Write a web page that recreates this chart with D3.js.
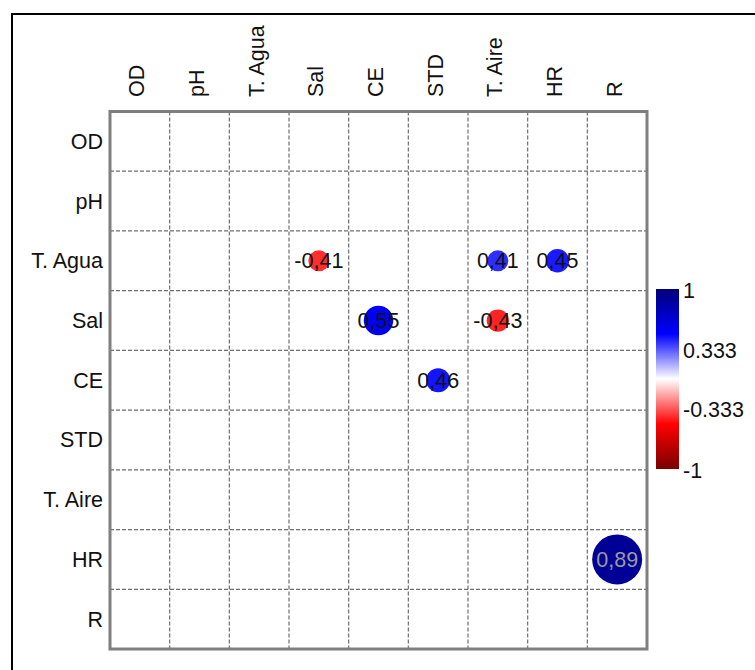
<!DOCTYPE html>
<html>
<head>
<meta charset="utf-8">
<script src="https://cdn.jsdelivr.net/npm/d3@7"></script>
<style>
  html, body { margin: 0; padding: 0; background: #fff; }
  svg text { font-family: "Liberation Sans", Arial, sans-serif; }
</style>
</head>
<body>
<div id="chart"></div>
<script>
// Correlation matrix of water and weather variables
const variables = ["OD", "pH", "T. Agua", "Sal", "CE", "STD", "T. Aire", "HR", "R"];

// Significant coefficients (row variable, column variable, value)
const pairRows = ["T. Agua", "T. Agua", "T. Agua", "Sal", "Sal", "CE", "HR"];
const pairCols = ["Sal", "T. Aire", "HR", "CE", "T. Aire", "STD", "R"];
const coefficients = [-0.41, 0.41, 0.45, 0.55, -0.43, 0.46, 0.89];

// Colour bar
const legendTicks = [1, 0.333, -0.333, -1];
const colorStops = [-1, -0.5, 0, 0.5, 1];
const colorRange = ["#7a0000", "#ff0000", "#ffffff", "#0000ff", "#000078"];

const W = 755, H = 670;
const svg = d3.select("#chart").append("svg")
  .attr("width", W).attr("height", H);

// Outer frame
svg.append("rect")
  .attr("x", 12).attr("y", 14)
  .attr("width", 800).attr("height", 700)
  .attr("fill", "none").attr("stroke", "#000").attr("stroke-width", 2);

const plot = { left: 110, right: 647, top: 111.5, bottom: 649 };

const x = d3.scaleBand().domain(variables).range([plot.left, plot.right]);
const y = d3.scaleBand().domain(variables).range([plot.top, plot.bottom]);
const color = d3.scaleLinear().domain(colorStops).range(colorRange);
const radius = d3.scaleLinear().domain([0.41, 0.89]).range([10.5, 25]);

const fontSize = 21.5;

// Dashed grid
const grid = svg.append("g")
  .attr("stroke", "#6e6e6e").attr("stroke-width", 1.2)
  .attr("stroke-dasharray", "4,2");
variables.slice(1).forEach(v => {
  grid.append("line")
    .attr("x1", x(v)).attr("x2", x(v))
    .attr("y1", plot.top).attr("y2", plot.bottom);
  grid.append("line")
    .attr("x1", plot.left).attr("x2", plot.right)
    .attr("y1", y(v)).attr("y2", y(v));
});

// Plot border
svg.append("rect")
  .attr("x", plot.left).attr("y", plot.top)
  .attr("width", plot.right - plot.left).attr("height", plot.bottom - plot.top)
  .attr("fill", "none").attr("stroke", "#7f7f7f").attr("stroke-width", 3);

// Row labels
svg.append("g").selectAll("text").data(variables).join("text")
  .attr("x", plot.left - 7)
  .attr("y", d => y(d) + y.bandwidth() / 2)
  .attr("dy", "0.35em")
  .attr("text-anchor", "end")
  .attr("font-size", fontSize)
  .attr("fill", "#111")
  .text(d => d);

// Column labels, rotated
svg.append("g").selectAll("text").data(variables).join("text")
  .attr("transform", d => `translate(${x(d) + x.bandwidth() / 2 + 4.5},97) rotate(-90)`)
  .attr("text-anchor", "start")
  .attr("font-size", fontSize)
  .attr("fill", "#111")
  .text(d => d);

// Circles and values
const cells = coefficients.map((v, i) => ({ row: pairRows[i], col: pairCols[i], value: v }));
const cellG = svg.append("g").selectAll("g").data(cells).join("g")
  .attr("transform", d => `translate(${x(d.col) + x.bandwidth() / 2},${y(d.row) + y.bandwidth() / 2})`);

cellG.append("circle")
  .attr("r", d => radius(Math.abs(d.value)))
  .attr("fill", d => color(d.value));

cellG.append("text")
  .attr("text-anchor", "middle")
  .attr("dy", "0.35em")
  .attr("font-size", fontSize)
  .attr("fill", d => Math.abs(d.value) > 0.8 ? "#9a9a9a" : "#111")
  .text(d => d3.format(".2f")(d.value).replace("−", "-").replace(".", ","));

// Colour bar
const bar = { x: 656, width: 23 };
const legendY = d3.scaleLinear().domain([-1, 1]).range([469, 289]);

const defs = svg.append("defs");
const grad = defs.append("linearGradient")
  .attr("id", "cbar").attr("x1", 0).attr("y1", 1).attr("x2", 0).attr("y2", 0);
grad.selectAll("stop").data(colorStops).join("stop")
  .attr("offset", d => (d + 1) / 2)
  .attr("stop-color", d => color(d));

svg.append("rect")
  .attr("x", bar.x).attr("y", legendY(1))
  .attr("width", bar.width).attr("height", legendY(-1) - legendY(1))
  .attr("fill", "url(#cbar)");

svg.append("g").selectAll("text").data(legendTicks).join("text")
  .attr("x", bar.x + bar.width + 4)
  .attr("y", d => legendY(d) + 1)
  .attr("dy", "0.35em")
  .attr("font-size", fontSize)
  .attr("fill", "#111")
  .text(d => String(d));
</script>
</body>
</html>
